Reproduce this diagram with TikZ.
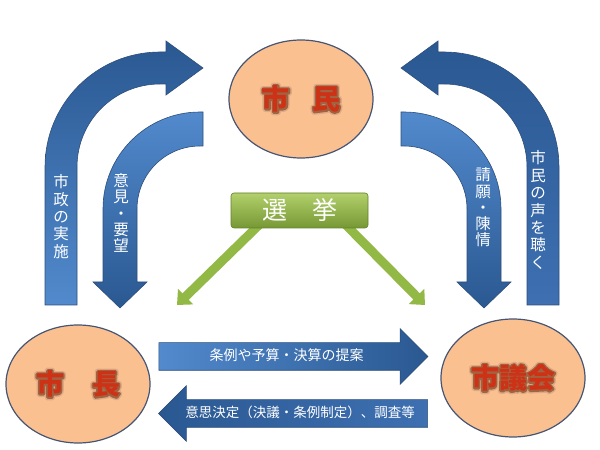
\documentclass[tikz,border=0pt]{standalone}
\usepackage{fontspec}
\usepackage{tikz}
\usetikzlibrary{positioning,arrows.meta,shapes.geometric,shapes.arrows}
\newfontfamily\jp{Noto Sans CJK JP}
\definecolor{peach}{RGB}{250,192,143}
\definecolor{rimslate}{RGB}{70,85,115}
\definecolor{namered}{RGB}{205,50,22}
\definecolor{glowdark}{RGB}{160,100,66}
\definecolor{glowlight}{RGB}{222,170,132}
\definecolor{bluelight}{RGB}{82,138,205}
\definecolor{bluemid}{RGB}{62,112,178}
\definecolor{bluedark}{RGB}{42,88,145}
\definecolor{blueline}{RGB}{45,78,122}
\definecolor{greenlight}{RGB}{178,208,108}
\definecolor{greendark}{RGB}{118,152,52}
\definecolor{greenline}{RGB}{98,128,42}
\definecolor{greenshaft}{RGB}{146,184,70}

\newcommand\strokecopy[3]{\rlap{\special{pdf:literal direct 1 Tr #1 w 1 j}\textcolor{#2}{#3}\special{pdf:literal direct 0 Tr}}}
\newcommand\glowname[1]{%
  \strokecopy{6}{glowlight}{#1}\strokecopy{3.2}{glowdark}{#1}\textcolor{namered}{#1}}

\begin{document}
\begin{tikzpicture}[
  x=1pt, y=1pt,
  citizen/.style={ellipse, draw=rimslate, line width=1.2pt, fill=peach, minimum width=144pt, minimum height=118pt, inner sep=0pt, font=\jp\bfseries\fontsize{28}{30}\selectfont},
  bendout/.style={top color=bluedark, bottom color=bluelight, draw=blueline, line width=0.6pt},
  bendin/.style={top color=bluelight, bottom color=bluedark, draw=blueline, line width=0.6pt},
  bendoutdark/.style={top color=bluedark, bottom color=bluemid, draw=blueline, line width=0.6pt},
  vlbl/.style={text=white, align=center, inner sep=0pt, font=\jp\fontsize{15.5}{17.4}\selectfont},
  vlblin/.style={vlbl, font=\jp\fontsize{15.5}{16.2}\selectfont},
  flowarrow/.style={single arrow, single arrow head extend=14pt, single arrow tip angle=90, minimum height=269pt, text height=11pt, text depth=2pt, inner ysep=7pt, inner xsep=2pt, draw=blueline, line width=0.6pt, text=white},
  senkyobox/.style={rectangle, rounded corners=3pt, minimum width=137pt, minimum height=35pt, top color=greenlight, bottom color=greendark, draw=greenline, line width=0.6pt, text=white, font=\jp\fontsize{25}{27}\selectfont},
  greenarrow/.style={draw=greenshaft, line width=9pt, -{Triangle[length=12pt, width=21pt]}}
]
\useasboundingbox (0,0) rectangle (600,450);

\path[bendout] (45,145) -- (45,283) arc[start angle=180, end angle=90, radius=115] -- (166,398) -- (166,409) -- (203,382) -- (166,355) -- (166,366) -- (160,366) arc[start angle=90, end angle=180, radius=83] -- (77,145) -- cycle;
\path[bendin] (203,338) -- (200,338) arc[start angle=90, end angle=180, radius=97] -- (103,168) -- (93,168) -- (120,142) -- (147,168) -- (137,168) -- (137,241) arc[start angle=180, end angle=90, radius=63] -- (203,304) -- cycle;
\begin{scope}[xshift=604pt, xscale=-1]
\path[bendoutdark] (45,145) -- (45,283) arc[start angle=180, end angle=90, radius=115] -- (166,398) -- (166,409) -- (203,382) -- (166,355) -- (166,366) -- (160,366) arc[start angle=90, end angle=180, radius=83] -- (77,145) -- cycle;
\path[bendin] (203,338) -- (200,338) arc[start angle=90, end angle=180, radius=97] -- (103,168) -- (93,168) -- (120,142) -- (147,168) -- (137,168) -- (137,241) arc[start angle=180, end angle=90, radius=63] -- (203,304) -- cycle;
\end{scope}

\node[vlbl] (shisei) at (61,233.5) {市\\政\\の\\実\\施};
\node[vlblin] (iken) at (121,237) {意\\見\\・\\要\\望};
\node[vlblin] (seigan) at (483,242.5) {請\\願\\・\\陳\\情};
\node[vlbl] (koe) at (538,240) {市\\民\\の\\声\\を\\聴\\く};

\coordinate (kyoL) at (262,228);
\coordinate (tipL) at (177,145);
\coordinate (kyoR) at (343,228);
\coordinate (tipR) at (425,145);
\draw[greenarrow] (kyoL) -- (tipL);
\draw[greenarrow] (kyoR) -- (tipR);
\node[senkyobox] (senkyo) at (299.5,239.5) {選\hspace{1em}挙};

\node[citizen] (shimin) at (301,351) {\glowname{市\hspace{0.8em}民}};
\node[citizen] (shicho) at (78,66) {\glowname{市\hspace{1em}長}};
\node[citizen] (gikai) at (513,72) {\glowname{市議会}};

\node[flowarrow, left color=bluelight, right color=bluedark, font=\jp\fontsize{14}{15}\selectfont] (teian) at (286.5,93.5) {条例や予算・決算の提案};
\node[flowarrow, shape border rotate=180, left color=bluedark, right color=bluemid, font=\jp\fontsize{13.5}{15}\selectfont] (ketsugi) at (300,36.5) {意思決定（決議・条例制定）、調査等};

\end{tikzpicture}
\end{document}
